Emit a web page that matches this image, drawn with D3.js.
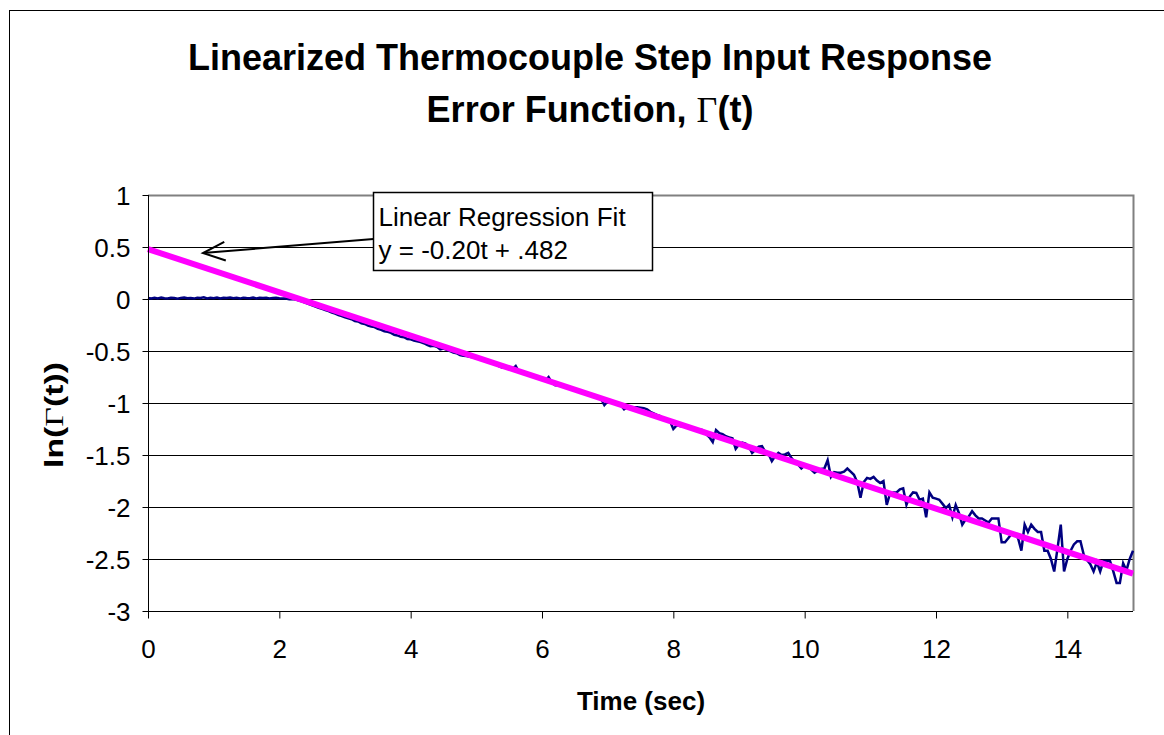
<!DOCTYPE html>
<html>
<head>
<meta charset="utf-8">
<script src="https://d3js.org/d3.v7.min.js"></script>
<style>
  body { margin: 0; background: #fff; }
  text { font-family: "Liberation Sans", Arial, sans-serif; fill: #000; }
</style>
</head>
<body>
<div id="chart"></div>
<script>
// sample step of the logged data (sec)
const dt = 0.05;

// ln(Gamma(t)), one value per 0.05 s from t = 0 to 15
const lnGamma = [
  0.010, 0.004, 0.012, 0.006, 0.014, 0.008, 0.005, 0.012, 0.009, 0.003,
  0.011, 0.015, 0.007, 0.010, 0.004, 0.013, 0.009, 0.016, 0.006, 0.011,
  0.008, 0.014, 0.005, 0.012, 0.009, 0.015, 0.007, 0.011, 0.004, 0.013,
  0.010, 0.008, 0.014, 0.006, 0.012, 0.009, 0.011, 0.005, 0.010, 0.012,
  0.008,
  // 2.05 - 3.0
  0.006, 0.004, -0.002, 0.000, -0.006, -0.014, -0.024, -0.036, -0.048, -0.062,
  -0.072, -0.084, -0.095, -0.106, -0.116, -0.130, -0.140, -0.155, -0.164, -0.176,
  // 3.05 - 4.0
  -0.186, -0.194, -0.212, -0.216, -0.234, -0.240, -0.256, -0.265, -0.270, -0.288,
  -0.296, -0.310, -0.316, -0.326, -0.344, -0.350, -0.364, -0.367, -0.384, -0.388,
  // 4.05 - 5.0
  -0.400, -0.407, -0.415, -0.425, -0.440, -0.455, -0.450, -0.460, -0.485, -0.476,
  -0.488, -0.502, -0.515, -0.522, -0.540, -0.545, -0.548, -0.555, -0.560, -0.570,
  // 5.05 - 6.0
  -0.575, -0.588, -0.598, -0.610, -0.618, -0.630, -0.648, -0.660, -0.655, -0.670,
  -0.675, -0.645, -0.700, -0.710, -0.722, -0.730, -0.742, -0.752, -0.765, -0.775,
  // 6.05 - 7.0
  -0.785, -0.750, -0.805, -0.830, -0.828, -0.835, -0.845, -0.855, -0.862, -0.868,
  -0.880, -0.890, -0.905, -0.912, -0.925, -0.935, -0.945, -0.960, -1.020, -0.985,
  // 7.05 - 8.0
  -0.990, -1.000, -1.010, -1.020, -1.060, -1.040, -1.038, -1.040, -1.042, -1.045,
  -1.050, -1.062, -1.085, -1.100, -1.115, -1.125, -1.150, -1.165, -1.175, -1.250,
  // 8.05 - 9.0
  -1.215, -1.222, -1.225, -1.232, -1.235, -1.240, -1.250, -1.255, -1.262, -1.300,
  -1.330, -1.375, -1.260, -1.290, -1.300, -1.320, -1.330, -1.340, -1.440, -1.400,
  // 9.05 - 10.0
  -1.380, -1.390, -1.420, -1.480, -1.450, -1.420, -1.415, -1.470, -1.490, -1.560,
  -1.510, -1.480, -1.500, -1.495, -1.480, -1.530, -1.570, -1.590, -1.630, -1.600,
  // 10.05 - 11.0
  -1.615, -1.640, -1.670, -1.650, -1.635, -1.630, -1.550, -1.710, -1.665, -1.670,
  -1.670, -1.660, -1.630, -1.660, -1.690, -1.760, -1.910, -1.760, -1.720, -1.730,
  // 11.05 - 12.0
  -1.710, -1.745, -1.770, -1.750, -1.980, -1.870, -1.860, -1.860, -1.830, -1.820,
  -1.980, -1.900, -1.860, -1.865, -1.930, -1.920, -2.100, -1.860, -1.910, -1.920,
  // 12.05 - 13.0
  -1.930, -1.970, -2.010, -1.980, -2.100, -1.980, -2.060, -2.170, -2.120, -2.090,
  -2.040, -2.080, -2.110, -2.110, -2.130, -2.150, -2.110, -2.110, -2.110, -2.340,
  // 13.05 - 14.0
  -2.340, -2.300, -2.260, -2.260, -2.300, -2.420, -2.170, -2.240, -2.170, -2.210,
  -2.240, -2.240, -2.420, -2.420, -2.500, -2.620, -2.400, -2.170, -2.620, -2.500,
  // 14.05 - 15.0
  -2.420, -2.360, -2.330, -2.330, -2.460, -2.510, -2.550, -2.620, -2.530, -2.620,
  -2.520, -2.520, -2.520, -2.620, -2.730, -2.730, -2.540, -2.610, -2.500, -2.420
];

// regression line as drawn on the chart (end points)
const fitTimes = [0, 15];
const fitValues = [0.48, -2.64];

const xTicks = [0, 2, 4, 6, 8, 10, 12, 14];
const yTicks = [1, 0.5, 0, -0.5, -1, -1.5, -2, -2.5, -3];

const titleLines = ["Linearized Thermocouple Step Input Response", "Error Function, "];
const boxLines = ["Linear Regression Fit", "y = -0.20t + .482"];

const W = 1164, H = 735;
const plot = { left: 148, right: 1133, top: 195, bottom: 611 };

const svg = d3.select("#chart").append("svg")
  .attr("width", W)
  .attr("height", H);

// outer chart frame (only top and left show in the picture)
svg.append("rect")
  .attr("x", 9.5).attr("y", 10.5)
  .attr("width", W + 20).attr("height", H + 20)
  .attr("fill", "#fff")
  .attr("stroke", "#000")
  .attr("stroke-width", 1);

const x = d3.scaleLinear().domain([0, 15]).range([plot.left, plot.right]);
const y = d3.scaleLinear().domain([-3, 1]).range([plot.bottom, plot.top]);

// gridlines
svg.append("g")
  .selectAll("line")
  .data(yTicks.filter(d => d < 1 && d > -3))
  .join("line")
  .attr("x1", plot.left).attr("x2", plot.right)
  .attr("y1", d => Math.round(y(d)) + 0.5)
  .attr("y2", d => Math.round(y(d)) + 0.5)
  .attr("stroke", "#000")
  .attr("stroke-width", 1);

// plot area border: top and right in gray
svg.append("path")
  .attr("d", `M${plot.left},${plot.top + 0.5}H${plot.right + 0.5}V${plot.bottom}`)
  .attr("fill", "none")
  .attr("stroke", "#808080")
  .attr("stroke-width", 2);

// data
const series = lnGamma.map((v, i) => ({ t: i * dt, v: v }));
const line = d3.line().x(d => x(d.t)).y(d => y(d.v));

svg.append("path")
  .datum(series)
  .attr("d", line)
  .attr("fill", "none")
  .attr("stroke", "#000080")
  .attr("stroke-width", 2.5)
  .attr("stroke-linejoin", "miter");

const fit = fitTimes.map((t, i) => ({ t: t, v: fitValues[i] }));
svg.append("path")
  .datum(fit)
  .attr("d", line)
  .attr("fill", "none")
  .attr("stroke", "#ff00ff")
  .attr("stroke-width", 6);

// axes
const xAxis = d3.axisBottom(x).tickValues(xTicks).tickSize(7).tickPadding(21)
  .tickFormat(d3.format("d"));
const gx = svg.append("g")
  .attr("transform", `translate(0,${plot.bottom + 0.5})`)
  .call(xAxis);

const yAxis = d3.axisLeft(y).tickValues(yTicks).tickSize(6).tickPadding(12)
  .tickFormat(d => String(d));
const gy = svg.append("g")
  .attr("transform", `translate(${plot.left + 0.5},0)`)
  .call(yAxis);

[gx, gy].forEach(g => {
  g.select(".domain").attr("stroke", "#000");
  g.selectAll(".tick line").attr("stroke", "#000");
  g.selectAll(".tick text")
    .attr("fill", "#000")
    .style("font-family", '"Liberation Sans", Arial, sans-serif')
    .style("font-size", "26px");
});
gx.select(".domain").attr("d", `M${plot.left},0H${plot.right}`);
gy.select(".domain").attr("d", `M0,${plot.top}V${plot.bottom}`);
gy.selectAll(".tick text").attr("dy", "0.36em");

// title
const title = svg.append("text")
  .attr("text-anchor", "middle")
  .style("font-weight", "bold")
  .style("font-size", "36px");
title.append("tspan").attr("x", 590).attr("y", 70).text(titleLines[0]);
const t2 = title.append("tspan").attr("x", 590).attr("y", 122);
t2.append("tspan").text(titleLines[1]);
t2.append("tspan")
  .style("font-family", '"Liberation Serif", "Times New Roman", serif')
  .style("font-weight", "normal")
  .text("Γ");
t2.append("tspan").text("(t)");

// axis titles
svg.append("text")
  .attr("x", 641).attr("y", 710)
  .attr("text-anchor", "middle")
  .style("font-weight", "bold")
  .style("font-size", "26px")
  .text("Time (sec)");

const yl = svg.append("text")
  .attr("transform", `translate(63,415) rotate(-90) scale(1.3,1)`)
  .attr("text-anchor", "middle")
  .style("font-weight", "bold")
  .style("font-size", "26px");
yl.append("tspan").text("ln(");
yl.append("tspan")
  .style("font-family", '"Liberation Serif", "Times New Roman", serif')
  .style("font-weight", "normal")
  .text("Γ");
yl.append("tspan").text("(t))");

// annotation box + arrow
const box = { x: 373.5, y: 192.5, w: 279, h: 78 };
svg.append("rect")
  .attr("x", box.x).attr("y", box.y)
  .attr("width", box.w).attr("height", box.h)
  .attr("fill", "#fff")
  .attr("stroke", "#000")
  .attr("stroke-width", 1.5);
svg.append("g")
  .selectAll("text")
  .data(boxLines)
  .join("text")
  .attr("x", box.x + 5)
  .attr("y", (d, i) => box.y + 33 + i * 33)
  .style("font-size", "26px")
  .text(d => d);

const tail = [box.x, 239];
const tip = [203, 253];
svg.append("line")
  .attr("x1", tail[0]).attr("y1", tail[1])
  .attr("x2", tip[0]).attr("y2", tip[1])
  .attr("stroke", "#000").attr("stroke-width", 2);
const ang = Math.atan2(tip[1] - tail[1], tip[0] - tail[0]);
const head = [ang + 0.4, ang - 0.4].map(a => [tip[0] - 24 * Math.cos(a), tip[1] - 24 * Math.sin(a)]);
svg.append("path")
  .attr("d", `M${head[0][0]},${head[0][1]}L${tip[0]},${tip[1]}L${head[1][0]},${head[1][1]}`)
  .attr("fill", "none")
  .attr("stroke", "#000")
  .attr("stroke-width", 2);
</script>
</body>
</html>
